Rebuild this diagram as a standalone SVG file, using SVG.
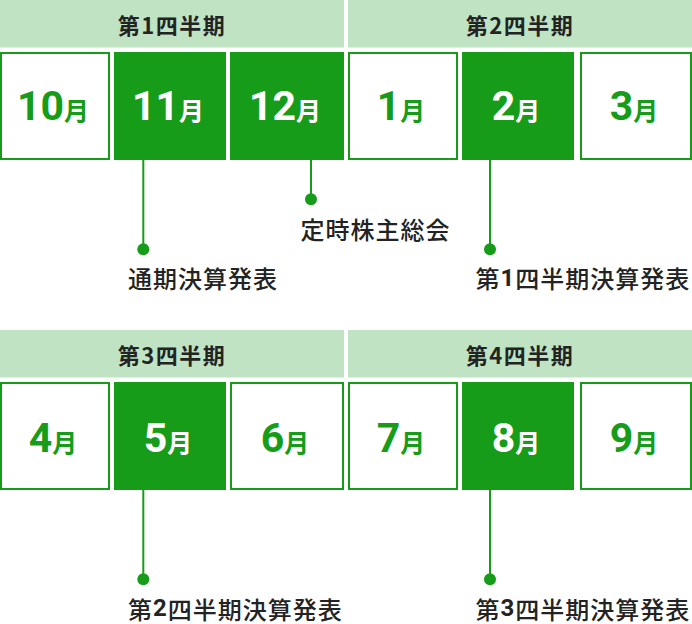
<svg xmlns="http://www.w3.org/2000/svg" width="692" height="624" viewBox="0 0 692 624">
<style>
.hdr{fill:#c0e4c3}
.htxt{font-family:"Noto Sans CJK JP","Noto Sans",sans-serif;font-weight:700;font-size:22px;fill:#232323;text-anchor:middle;dominant-baseline:central;letter-spacing:1.5px}
.box{fill:#fff;stroke:#179c1a;stroke-width:2}
.boxf{fill:#179c1a}
.mtxt{text-anchor:middle;font-weight:700}
.num{font-family:Roboto,"Liberation Sans",sans-serif;font-size:41px}
.tsuki{font-family:"Noto Sans CJK JP",sans-serif;font-size:25px}
.g{fill:#179c1a}
.w{fill:#fff}
.lbl{font-family:"Noto Sans CJK JP","Noto Sans",sans-serif;font-weight:500;font-size:24px;fill:#232323;dominant-baseline:central;letter-spacing:1px}
.d{font-family:Roboto,"Liberation Sans",sans-serif;font-weight:700}
.ln{stroke:#179c1a;stroke-width:2;fill:none}
.dot{fill:#179c1a}
</style>

<g id="q1"><rect class="hdr" x="0" y="0" width="344" height="47.5"/><text class="htxt" x="172" y="24">第1四半期</text></g>
<g id="q2"><rect class="hdr" x="348" y="0" width="344" height="47.5"/><text class="htxt" x="520" y="24">第2四半期</text></g>
<g id="q3"><rect class="hdr" x="0" y="330" width="344" height="47.5"/><text class="htxt" x="172" y="354">第3四半期</text></g>
<g id="q4"><rect class="hdr" x="348" y="330" width="344" height="47.5"/><text class="htxt" x="520" y="354">第4四半期</text></g>

<g id="m10"><rect class="box" x="1" y="53" width="108" height="106"/><text class="mtxt g" x="53" y="120"><tspan class="num">10</tspan><tspan class="tsuki">月</tspan></text></g>
<g id="m11"><rect class="boxf" x="114" y="52" width="112" height="108"/><text class="mtxt w" x="168" y="120"><tspan class="num">11</tspan><tspan class="tsuki">月</tspan></text></g>
<g id="m12"><rect class="boxf" x="230" y="52" width="114" height="108"/><text class="mtxt w" x="285" y="120"><tspan class="num">12</tspan><tspan class="tsuki">月</tspan></text></g>
<g id="m1"><rect class="box" x="349" y="53" width="108" height="106"/><text class="mtxt g" x="401" y="120"><tspan class="num">1</tspan><tspan class="tsuki">月</tspan></text></g>
<g id="m2"><rect class="boxf" x="462" y="52" width="112" height="108"/><text class="mtxt w" x="516" y="120"><tspan class="num">2</tspan><tspan class="tsuki">月</tspan></text></g>
<g id="m3"><rect class="box" x="581" y="53" width="110" height="106"/><text class="mtxt g" x="634" y="120"><tspan class="num">3</tspan><tspan class="tsuki">月</tspan></text></g>

<g id="m4"><rect class="box" x="1" y="383" width="108" height="106"/><text class="mtxt g" x="53" y="451.5"><tspan class="num">4</tspan><tspan class="tsuki">月</tspan></text></g>
<g id="m5"><rect class="boxf" x="114" y="382" width="112" height="108"/><text class="mtxt w" x="168" y="451.5"><tspan class="num">5</tspan><tspan class="tsuki">月</tspan></text></g>
<g id="m6"><rect class="box" x="231" y="383" width="112" height="106"/><text class="mtxt g" x="285" y="451.5"><tspan class="num">6</tspan><tspan class="tsuki">月</tspan></text></g>
<g id="m7"><rect class="box" x="349" y="383" width="108" height="106"/><text class="mtxt g" x="401" y="451.5"><tspan class="num">7</tspan><tspan class="tsuki">月</tspan></text></g>
<g id="m8"><rect class="boxf" x="462" y="382" width="112" height="108"/><text class="mtxt w" x="516" y="451.5"><tspan class="num">8</tspan><tspan class="tsuki">月</tspan></text></g>
<g id="m9"><rect class="box" x="581" y="383" width="110" height="106"/><text class="mtxt g" x="634" y="451.5"><tspan class="num">9</tspan><tspan class="tsuki">月</tspan></text></g>

<g id="connectors">
<line class="ln" x1="143.3" y1="160" x2="143.3" y2="249"/><circle class="dot" cx="143.3" cy="249.3" r="6"/>
<line class="ln" x1="311" y1="160" x2="311" y2="199"/><circle class="dot" cx="311" cy="199.3" r="6"/>
<line class="ln" x1="490" y1="160" x2="490" y2="249"/><circle class="dot" cx="490" cy="249.3" r="6"/>
<line class="ln" x1="143.3" y1="490" x2="143.3" y2="579"/><circle class="dot" cx="143.3" cy="579.3" r="6"/>
<line class="ln" x1="490" y1="490" x2="490" y2="579"/><circle class="dot" cx="490" cy="579.3" r="6"/>
</g>

<g id="l1"><text class="lbl" x="128" y="277.7">通期決算発表</text></g>
<g id="l2"><text class="lbl" x="300.5" y="228">定時株主総会</text></g>
<g id="l3"><text class="lbl" x="475.5" y="277.7">第<tspan class="d">1</tspan>四半期決算発表</text></g>
<g id="l4"><text class="lbl" x="128" y="608">第<tspan class="d">2</tspan>四半期決算発表</text></g>
<g id="l5"><text class="lbl" x="475.5" y="608">第<tspan class="d">3</tspan>四半期決算発表</text></g>
</svg>
